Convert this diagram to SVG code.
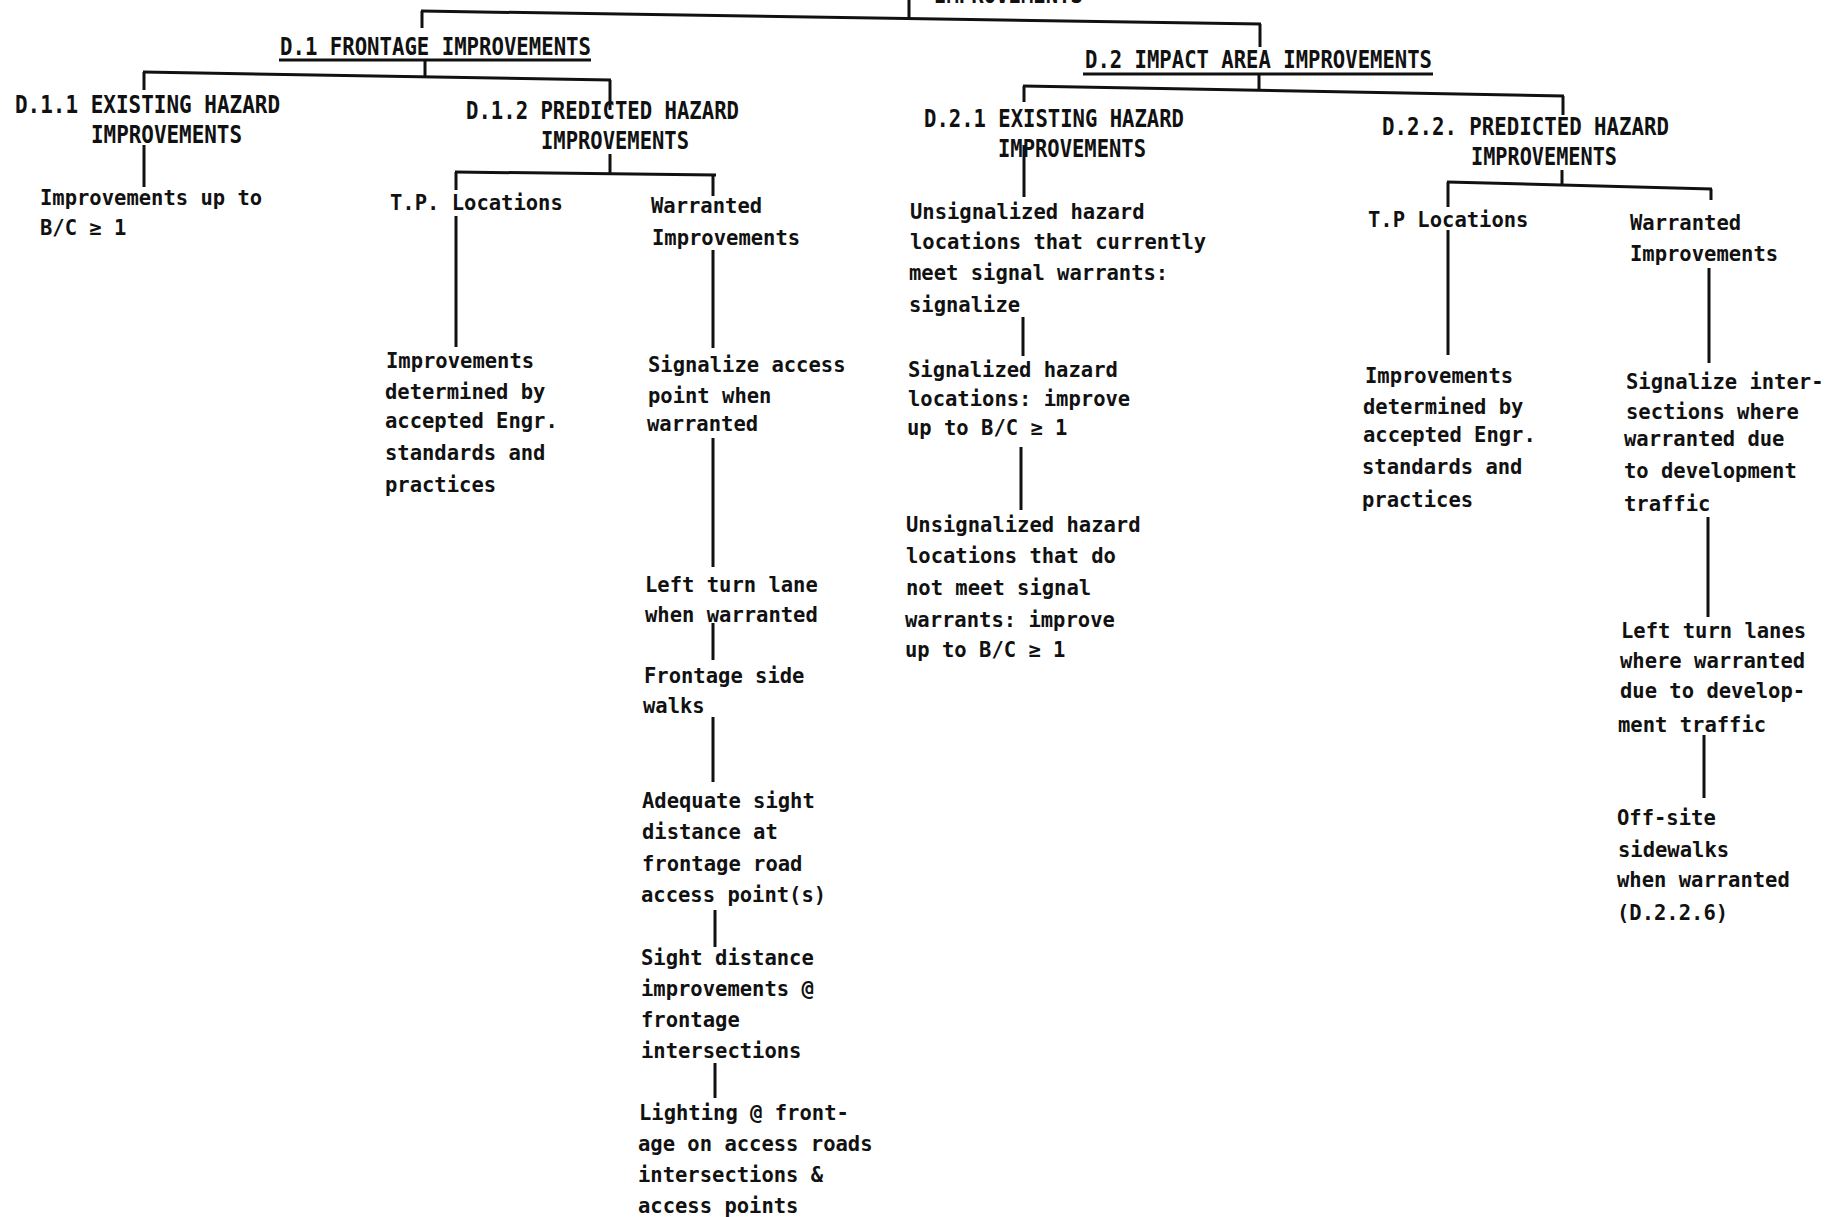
<svg xmlns="http://www.w3.org/2000/svg" width="1830" height="1217" viewBox="0 0 1830 1217">
<style>
.h{font-family:"DejaVu Sans Mono","Liberation Mono",monospace;font-size:24px;font-weight:bold;fill:#111}
.t{font-family:"DejaVu Sans Mono","Liberation Mono",monospace;font-size:20.5px;font-weight:bold;fill:#111}
.c line{stroke:#111;stroke-width:3;stroke-linecap:butt}
</style>
<rect x="0" y="0" width="1830" height="1217" fill="#fff"/>
<g id="connectors" class="c">
<line x1="909" y1="0" x2="909" y2="18"/>
<line x1="421" y1="11" x2="1261" y2="24"/>
<line x1="422" y1="11" x2="422" y2="28"/>
<line x1="1260" y1="24" x2="1260" y2="47"/>
<line x1="425" y1="60" x2="425" y2="76"/>
<line x1="143" y1="72" x2="611" y2="80"/>
<line x1="144" y1="72" x2="144" y2="90"/>
<line x1="610" y1="80" x2="610" y2="110"/>
<line x1="144" y1="145" x2="144" y2="187"/>
<line x1="610" y1="154" x2="610" y2="174"/>
<line x1="455" y1="172" x2="716" y2="175"/>
<line x1="456" y1="172" x2="456" y2="190"/>
<line x1="456" y1="216" x2="456" y2="347"/>
<line x1="713" y1="175" x2="713" y2="196"/>
<line x1="713" y1="250" x2="713" y2="348"/>
<line x1="713" y1="438" x2="713" y2="567"/>
<line x1="713" y1="623" x2="713" y2="660"/>
<line x1="713" y1="717" x2="713" y2="782"/>
<line x1="715" y1="910" x2="715" y2="947"/>
<line x1="715" y1="1063" x2="715" y2="1098"/>
<line x1="1259" y1="74" x2="1259" y2="89"/>
<line x1="1023" y1="86" x2="1564" y2="96"/>
<line x1="1024" y1="86" x2="1024" y2="102"/>
<line x1="1563" y1="96" x2="1563" y2="115"/>
<line x1="1024" y1="145" x2="1024" y2="197"/>
<line x1="1023" y1="317" x2="1023" y2="356"/>
<line x1="1021" y1="447" x2="1021" y2="510"/>
<line x1="1562" y1="170" x2="1562" y2="185"/>
<line x1="1447" y1="182" x2="1712" y2="189"/>
<line x1="1448" y1="182" x2="1448" y2="207"/>
<line x1="1448" y1="230" x2="1448" y2="355"/>
<line x1="1711" y1="189" x2="1711" y2="200"/>
<line x1="1709" y1="268" x2="1709" y2="363"/>
<line x1="1708" y1="517" x2="1708" y2="617"/>
<line x1="1704" y1="735" x2="1704" y2="798"/>
</g>
<g id="root"><text class="h" x="934" y="3" textLength="149" lengthAdjust="spacingAndGlyphs">IMPROVEMENTS</text></g>
<g id="d1">
<text class="h" x="280" y="55" textLength="311" lengthAdjust="spacingAndGlyphs">D.1 FRONTAGE IMPROVEMENTS</text>
<line x1="279" y1="60" x2="591" y2="60" stroke="#111" stroke-width="3"/>
</g>
<g id="d2">
<text class="h" x="1085" y="68" textLength="347" lengthAdjust="spacingAndGlyphs">D.2 IMPACT AREA IMPROVEMENTS</text>
<line x1="1083" y1="74" x2="1433" y2="74" stroke="#111" stroke-width="3"/>
</g>
<g id="d11">
<text class="h" x="15" y="113" textLength="265" lengthAdjust="spacingAndGlyphs">D.1.1 EXISTING HAZARD</text>
<text class="h" x="91" y="143" textLength="151" lengthAdjust="spacingAndGlyphs">IMPROVEMENTS</text>
</g>
<g id="d12">
<text class="h" x="466" y="119" textLength="273" lengthAdjust="spacingAndGlyphs">D.1.2 PREDICTED HAZARD</text>
<text class="h" x="541" y="149" textLength="148" lengthAdjust="spacingAndGlyphs">IMPROVEMENTS</text>
</g>
<g id="d21">
<text class="h" x="924" y="127" textLength="260" lengthAdjust="spacingAndGlyphs">D.2.1 EXISTING HAZARD</text>
<text class="h" x="998" y="157" textLength="148" lengthAdjust="spacingAndGlyphs">IMPROVEMENTS</text>
</g>
<g id="d22">
<text class="h" x="1382" y="135" textLength="287" lengthAdjust="spacingAndGlyphs">D.2.2. PREDICTED HAZARD</text>
<text class="h" x="1471" y="165" textLength="146" lengthAdjust="spacingAndGlyphs">IMPROVEMENTS</text>
</g>
<g id="d11-bc">
<text class="t"><tspan x="40" y="205">Improvements up to</tspan><tspan x="40" y="235">B/C ≥ 1</tspan></text>
</g>
<g id="d12-tp">
<text class="t" x="390" y="210">T.P. Locations</text>
</g>
<g id="d12-warr">
<text class="t"><tspan x="651" y="213">Warranted</tspan><tspan x="652" y="245">Improvements</tspan></text>
</g>
<g id="d12-tp-impr">
<text class="t"><tspan x="386" y="368">Improvements</tspan><tspan x="385" y="399">determined by</tspan><tspan x="385" y="428">accepted Engr.</tspan><tspan x="385" y="460">standards and</tspan><tspan x="385" y="492">practices</tspan></text>
</g>
<g id="d12-signal">
<text class="t"><tspan x="648" y="372">Signalize access</tspan><tspan x="648" y="403">point when</tspan><tspan x="647" y="431">warranted</tspan></text>
</g>
<g id="d12-leftturn">
<text class="t"><tspan x="645" y="592">Left turn lane</tspan><tspan x="645" y="622">when warranted</tspan></text>
</g>
<g id="d12-sidewalks">
<text class="t"><tspan x="644" y="683">Frontage side</tspan><tspan x="643" y="713">walks</tspan></text>
</g>
<g id="d12-sight">
<text class="t"><tspan x="642" y="808">Adequate sight</tspan><tspan x="642" y="839">distance at</tspan><tspan x="642" y="871">frontage road</tspan><tspan x="641" y="902">access point(s)</tspan></text>
</g>
<g id="d12-sightimpr">
<text class="t"><tspan x="641" y="965">Sight distance</tspan><tspan x="641" y="996">improvements @</tspan><tspan x="641" y="1027">frontage</tspan><tspan x="641" y="1058">intersections</tspan></text>
</g>
<g id="d12-lighting">
<text class="t"><tspan x="639" y="1120">Lighting @ front-</tspan><tspan x="638" y="1151">age on access roads</tspan><tspan x="638" y="1182">intersections &amp;</tspan><tspan x="638" y="1213">access points</tspan></text>
</g>
<g id="d21-unsig1">
<text class="t"><tspan x="910" y="219">Unsignalized hazard</tspan><tspan x="910" y="249">locations that currently</tspan><tspan x="909" y="280">meet signal warrants:</tspan><tspan x="909" y="312">signalize</tspan></text>
</g>
<g id="d21-sig">
<text class="t"><tspan x="908" y="377">Signalized hazard</tspan><tspan x="908" y="406">locations: improve</tspan><tspan x="907" y="435">up to B/C ≥ 1</tspan></text>
</g>
<g id="d21-unsig2">
<text class="t"><tspan x="906" y="532">Unsignalized hazard</tspan><tspan x="906" y="563">locations that do</tspan><tspan x="906" y="595">not meet signal</tspan><tspan x="905" y="627">warrants: improve</tspan><tspan x="905" y="657">up to B/C ≥ 1</tspan></text>
</g>
<g id="d22-tp">
<text class="t" x="1368" y="227">T.P Locations</text>
</g>
<g id="d22-warr">
<text class="t"><tspan x="1630" y="230">Warranted</tspan><tspan x="1630" y="261">Improvements</tspan></text>
</g>
<g id="d22-tp-impr">
<text class="t"><tspan x="1365" y="383">Improvements</tspan><tspan x="1363" y="414">determined by</tspan><tspan x="1363" y="442">accepted Engr.</tspan><tspan x="1362" y="474">standards and</tspan><tspan x="1362" y="507">practices</tspan></text>
</g>
<g id="d22-signal">
<text class="t"><tspan x="1626" y="389">Signalize inter-</tspan><tspan x="1626" y="419">sections where</tspan><tspan x="1624" y="446">warranted due</tspan><tspan x="1624" y="478">to development</tspan><tspan x="1624" y="511">traffic</tspan></text>
</g>
<g id="d22-leftturn">
<text class="t"><tspan x="1621" y="638">Left turn lanes</tspan><tspan x="1620" y="668">where warranted</tspan><tspan x="1620" y="698">due to develop-</tspan><tspan x="1618" y="732">ment traffic</tspan></text>
</g>
<g id="d22-offsite">
<text class="t"><tspan x="1617" y="825">Off-site</tspan><tspan x="1618" y="857">sidewalks</tspan><tspan x="1617" y="887">when warranted</tspan><tspan x="1617" y="920">(D.2.2.6)</tspan></text>
</g>
</svg>
